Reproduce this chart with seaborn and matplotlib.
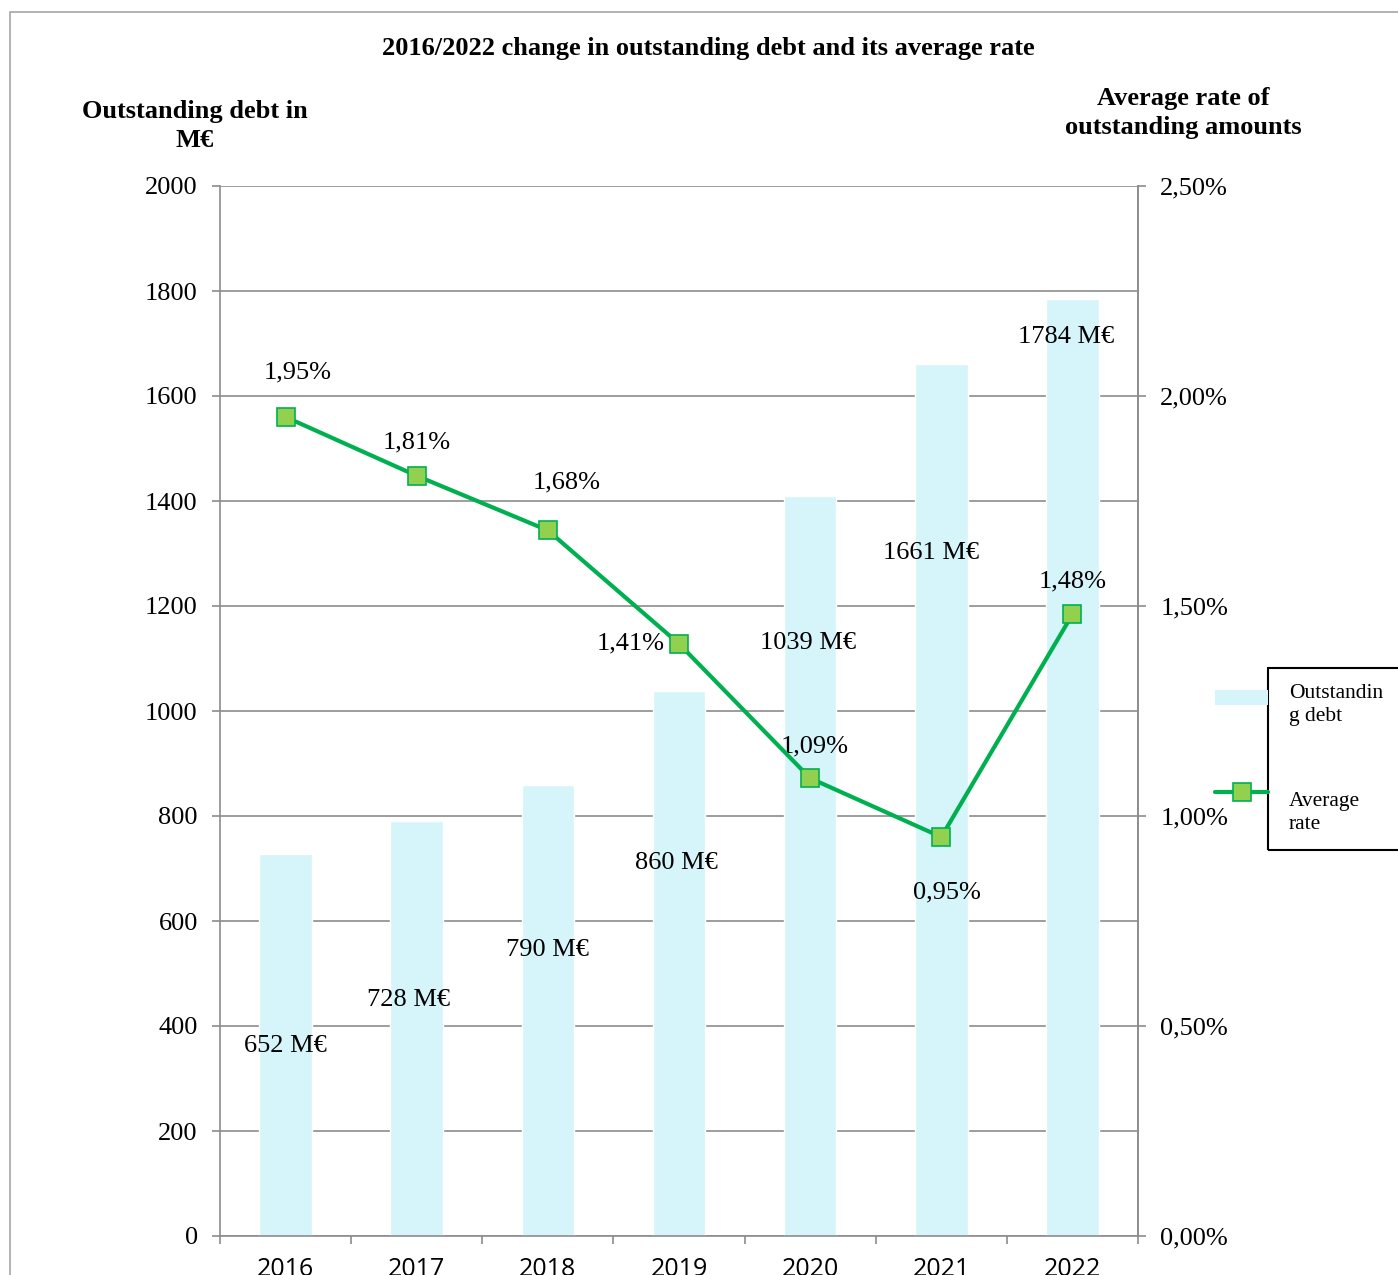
import numpy as np
import pandas as pd
import seaborn as sns
import matplotlib.pyplot as plt
from matplotlib.patches import Rectangle
from matplotlib.lines import Line2D

# data
years = ['2016', '2017', '2018', '2019', '2020', '2021', '2022']
debt_bars = [728, 790, 860, 1039, 1410, 1661, 1784]
debt_labels = ['652 M€', '728 M€', '790 M€', '860 M€', '1039 M€', '1661 M€', '1784 M€']
debt_label_y = [362, 450, 545, 710, 1130, 1301, 1712]
avg_rate = [1.95, 1.81, 1.68, 1.41, 1.09, 0.95, 1.48]
rate_offsets = [(12, 45), (0, 33), (19, 48), (-48, 0), (5, 32), (6, -55), (0, 33)]
label_dx = [0, -0.06, 0, -0.02, -0.02, -0.08, -0.05]

bar_color = '#D5F5FA'
line_color = '#00B050'
marker_color = '#92D050'
grid_color = '#8C8C8C'

sns.set_theme(style='white')
plt.rcParams['font.family'] = ['Liberation Serif', 'DejaVu Serif']
plt.rcParams['text.color'] = 'black'
plt.rcParams['xtick.color'] = 'black'
plt.rcParams['ytick.color'] = 'black'

df = pd.DataFrame({'year': years, 'debt': debt_bars, 'rate': avg_rate})

fig = plt.figure(figsize=(13.98, 12.75), dpi=100)
ax = fig.add_axes([220 / 1398, 39 / 1275, 918 / 1398, 1050 / 1275])

sns.barplot(data=df, x='year', y='debt', color=bar_color, saturation=1,
            width=0.4, ax=ax, zorder=2)
ax.set_ylim(0, 2000)
ax.set_yticks(range(0, 2001, 200))
ax.set_xlim(-0.5, 6.5)
ax.yaxis.grid(True, color=grid_color, linewidth=1.2, zorder=0)
ax.set_axisbelow(True)
ax.set_xlabel('')
ax.set_ylabel('')

ax.spines['top'].set_visible(False)
for s in ['left', 'right', 'bottom']:
    ax.spines[s].set_color(grid_color)
    ax.spines[s].set_linewidth(1.2)

# ticks between categories on the x axis
ax.set_xticks(np.arange(-0.5, 7, 1))
ax.set_xticklabels([])
ax.set_xticks(range(7), minor=True)
ax.set_xticklabels(years, minor=True, fontsize=18, family='Open Sans')
ax.tick_params(axis='x', which='major', length=6, width=1.2, color=grid_color, direction='out', bottom=True)
ax.tick_params(axis='x', which='minor', length=0, pad=15)
ax.tick_params(axis='y', length=6, width=1.2, color=grid_color, direction='out', left=True,
               labelsize=19, pad=10)

for i, (lab, y) in enumerate(zip(debt_labels, debt_label_y)):
    ax.text(i + label_dx[i], y, lab, ha='center', va='center', fontsize=19, zorder=5)

ax2 = ax.twinx()
sns.lineplot(x=list(range(7)), y=avg_rate, ax=ax2, color=line_color, linewidth=3,
             marker='s', markersize=13, markerfacecolor=marker_color,
             markeredgecolor=line_color, markeredgewidth=1.2, zorder=4)
ax2.set_ylim(0, 2.5)
ax2.set_yticks(np.arange(0, 2.51, 0.5))
ax2.set_yticklabels([f'{v:.2f}%'.replace('.', ',') for v in np.arange(0, 2.51, 0.5)])
ax2.tick_params(axis='y', length=6, width=1.2, color=grid_color, direction='out', right=True,
                labelsize=19, pad=10)
ax2.grid(False)
for s in ['top', 'left', 'bottom']:
    ax2.spines[s].set_visible(False)
ax2.spines['right'].set_color(grid_color)
ax2.spines['right'].set_linewidth(1.2)

for i, (r, off) in enumerate(zip(avg_rate, rate_offsets)):
    ax2.annotate(f'{r:.2f}%'.replace('.', ','), (i, r), xytext=off,
                 textcoords='offset pixels', ha='center', va='center', fontsize=19)

# titles
fig.text(708 / 1398, 1 - 48 / 1275, '2016/2022 change in outstanding debt and its average rate',
         ha='center', va='center', fontsize=19, fontweight='bold')
fig.text(195 / 1398, 1 - 126 / 1275, 'Outstanding debt in\nM€', ha='center', va='center',
         fontsize=19, fontweight='bold', linespacing=1.35)
fig.text(1183 / 1398, 1 - 113 / 1275, 'Average rate of\noutstanding amounts', ha='center',
         va='center', fontsize=19, fontweight='bold', linespacing=1.35)

# legend drawn by hand: handles sit left of the box
fig.add_artist(Rectangle((1268 / 1398, 1 - 850 / 1275), 200 / 1398, 182 / 1275,
                         transform=fig.transFigure, fill=False, edgecolor='black', linewidth=1.5))
fig.add_artist(Rectangle((1215 / 1398, 1 - 705 / 1275), 53 / 1398, 15 / 1275,
                         transform=fig.transFigure, facecolor=bar_color, edgecolor='none'))
fig.add_artist(Line2D([1215 / 1398, 1268 / 1398], [1 - 792 / 1275] * 2, transform=fig.transFigure,
                      color=line_color, linewidth=3))
fig.add_artist(Line2D([1242 / 1398], [1 - 792 / 1275], transform=fig.transFigure, marker='s',
                      markersize=13, markerfacecolor=marker_color, markeredgecolor=line_color,
                      markeredgewidth=1.2, linestyle='none'))
fig.text(1289 / 1398, 1 - 705 / 1275, 'Outstandin\ng debt', ha='left', va='center', fontsize=15.5,
         linespacing=1.3)
fig.text(1289 / 1398, 1 - 813 / 1275, 'Average\nrate', ha='left', va='center', fontsize=15.5,
         linespacing=1.3)

# outer frame
fig.add_artist(Rectangle((10 / 1398, -0.05), 1.2, 1.05 - 12 / 1275, transform=fig.transFigure,
                         fill=False, edgecolor='#A6A6A6', linewidth=1.2))

fig.savefig('out.png', dpi=100)
